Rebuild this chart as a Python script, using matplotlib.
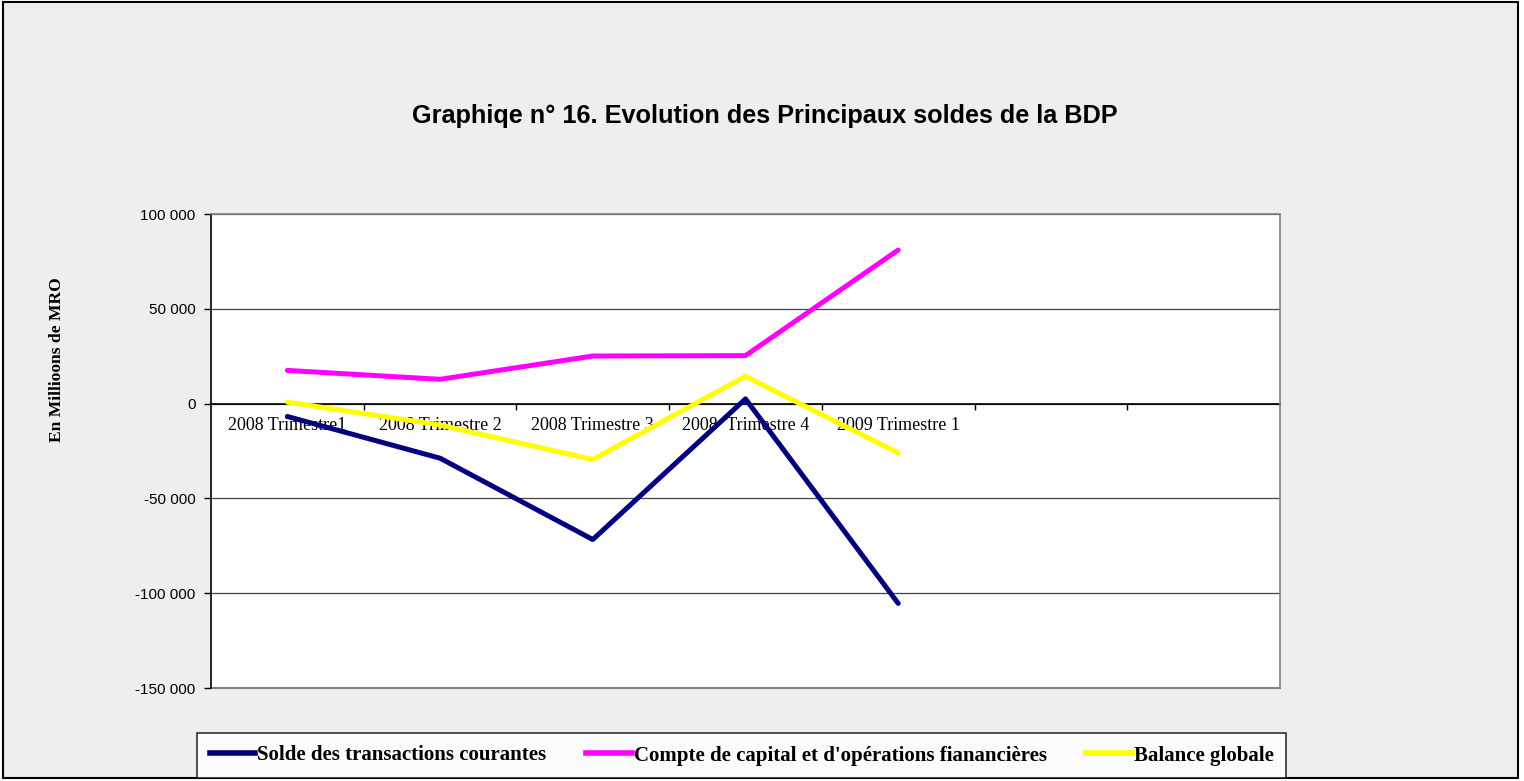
import matplotlib
matplotlib.use("Agg")
import matplotlib.pyplot as plt
from matplotlib.ticker import FixedLocator, FuncFormatter
from matplotlib.patches import Rectangle

categories = ["2008 Trimestre1", "2008 Trimestre 2", "2008 Trimestre 3",
              "2008  Trimestre 4", "2009 Trimestre 1", "", ""]
solde_courant = [-6800, -28800, -71700, 2500, -105400]
compte_capital = [17500, 12800, 25100, 25300, 81000]
balance_globale = [800, -11300, -29500, 14400, -26000]
series_names = ["Solde des transactions courantes",
                "Compte de capital et d'opérations fianancières",
                "Balance globale"]
yticks = [-150000, -100000, -50000, 0, 50000, 100000]

W, H = 1524, 781
fig = plt.figure(figsize=(W / 100, H / 100), dpi=100)
fig.patch.set_facecolor("white")
bg = Rectangle((3 / W, 3 / H), (1518 - 3) / W, (779 - 3) / H, transform=fig.transFigure,
               facecolor="#eeeeee", edgecolor="black", linewidth=1.5, zorder=-10)
fig.patches.append(bg)

ax = fig.add_axes([211 / W, 1 - 688 / H, (1280 - 211) / W, (688 - 214) / H])
ax.set_facecolor("white")

x = list(range(len(solde_courant)))
ax.plot(x, solde_courant, color="#000080", lw=3.6, solid_capstyle="round", zorder=3)
ax.plot(x, compte_capital, color="#FF00FF", lw=3.6, solid_capstyle="round", zorder=3)
ax.plot(x, balance_globale, color="#FFFF00", lw=3.6, solid_capstyle="round", zorder=3)

ax.set_xlim(-0.5, len(categories) - 0.5)
ax.set_ylim(-150000, 100000)
ax.set_yticks(yticks)
ax.yaxis.set_major_formatter(FuncFormatter(lambda v, p: f"{int(v):,}".replace(",", " ")))
for t in ax.get_yticklabels():
    t.set_fontfamily("Liberation Sans")
    t.set_fontsize(11)
ax.tick_params(axis="y", direction="out", length=5, width=1, pad=6)
ax.grid(axis="y", color="#444444", lw=0.9, zorder=1)

# x axis at zero
ax.spines["bottom"].set_position(("data", 0))
ax.spines["bottom"].set_color("black")
ax.spines["bottom"].set_linewidth(1.2)
ax.spines["bottom"].set_zorder(2)
ax.xaxis.set_major_locator(FixedLocator([i + 0.5 for i in range(len(categories) - 1)]))
ax.xaxis.set_minor_locator(FixedLocator(list(range(len(categories)))))
ax.set_xticklabels([""] * (len(categories) - 1))
ax.set_xticklabels(categories, minor=True, fontfamily="Liberation Serif", fontsize=13)
ax.tick_params(axis="x", which="major", direction="out", length=4, width=1)
ax.tick_params(axis="x", which="minor", length=0, pad=10)

for s in ["top", "right"]:
    ax.spines[s].set_color("#808080")
    ax.spines[s].set_linewidth(1.2)
ax.spines["left"].set_color("black")
ax.spines["left"].set_linewidth(1.2)
# bottom border of plot area
ax.axhline(-150000, color="#808080", lw=1.5, zorder=2, clip_on=False)

fig.text(765 / W, 1 - 116 / H, "Graphiqe n° 16. Evolution des Principaux soldes de la BDP",
         ha="center", va="center", fontsize=18.2, fontweight="bold", fontfamily="Liberation Sans")
fig.text(57 / W, 1 - 360 / H, "En Millioons de MRO", rotation=90, ha="center", va="center",
         fontsize=12.6, fontweight="bold", fontfamily="Liberation Serif")

# legend
handles = [plt.Line2D([], [], color=c, lw=4) for c in ["#000080", "#FF00FF", "#FFFF00"]]
leg = fig.legend(handles, series_names, loc="lower left", ncol=3,
                 bbox_to_anchor=(197 / W, 1 - 778 / H, (1286 - 197) / W, (778 - 728) / H),
                 mode="expand", frameon=True, fancybox=False, edgecolor="black",
                 prop={"family": "Liberation Serif", "weight": "bold", "size": 15},
                 handlelength=2.2, handletextpad=0.1, borderaxespad=0, borderpad=0.6)
leg.get_frame().set_linewidth(1.2)
leg.get_frame().set_facecolor("white")

fig.savefig("out.png", dpi=100)
